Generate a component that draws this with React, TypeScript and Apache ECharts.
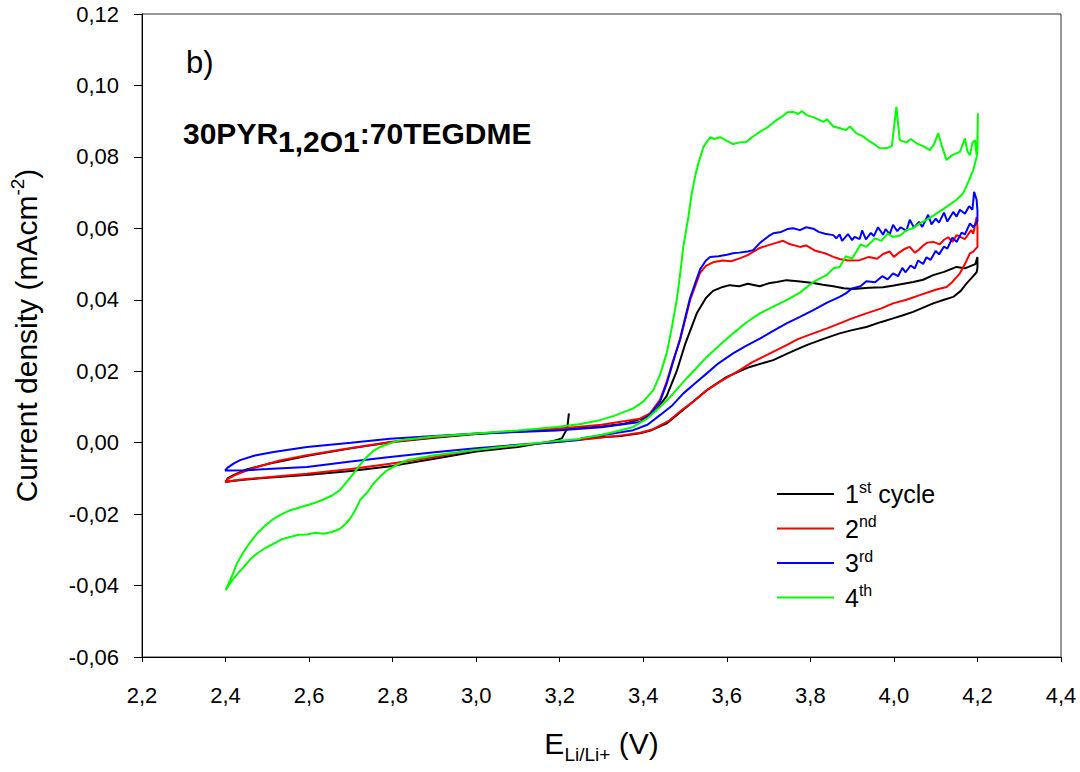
import React, { useEffect, useRef } from 'react';
import * as echarts from 'echarts';

const xMin = 2.2;
const xMax = 4.4;
const xStep = 0.2;
const yMin = -0.06;
const yMax = 0.12;
const yStep = 0.02;
const xTickLabels = ['2,2', '2,4', '2,6', '2,8', '3,0', '3,2', '3,4', '3,6', '3,8', '4,0', '4,2', '4,4'];
const yTickLabels = ['-0,06', '-0,04', '-0,02', '0,00', '0,02', '0,04', '0,06', '0,08', '0,10', '0,12'];

const seriesNames = ['1st cycle', '2nd', '3rd', '4th'];
const legendTexts = ['{f|1}{s|st}{n| cycle}', '{f|2}{s|nd}', '{f|3}{s|rd}', '{f|4}{s|th}'];
const colors = ['#000000', '#ff0000', '#0000ff', '#00ff00'];

const cycle1: number[][] = [
  [3.222, 0.0082], [3.218, 0.004], [3.205, 0.0012], [3.185, 0.0005], [3.1, -0.0012], [3.0, -0.0025],
  [2.9, -0.0045], [2.8, -0.0065], [2.7, -0.0079], [2.6, -0.009], [2.5, -0.0098], [2.45, -0.0103],
  [2.41, -0.0108], [2.4, -0.0111], [2.405, -0.01], [2.42, -0.009], [2.45, -0.0075], [2.5, -0.006],
  [2.6, -0.0036], [2.7, -0.0016], [2.8, 0.0002], [2.9, 0.0014], [3.0, 0.0024], [3.1, 0.0031],
  [3.2, 0.0037], [3.3, 0.0045], [3.35, 0.0052], [3.4, 0.0068], [3.43, 0.009], [3.456, 0.013],
  [3.48, 0.02], [3.5, 0.0275], [3.528, 0.0362], [3.55, 0.0405], [3.567, 0.0425], [3.59, 0.0436],
  [3.607, 0.0441], [3.63, 0.0438], [3.65, 0.0445], [3.679, 0.0438], [3.7, 0.0446], [3.72, 0.045],
  [3.743, 0.0455], [3.77, 0.0452], [3.807, 0.0447], [3.83, 0.0442], [3.855, 0.0438], [3.88, 0.0432],
  [3.902, 0.043], [3.94, 0.0434], [3.974, 0.0435], [4.0, 0.044], [4.046, 0.045], [4.07, 0.0456],
  [4.094, 0.0469], [4.12, 0.0478], [4.15, 0.0492], [4.17, 0.0488], [4.18, 0.0493], [4.195, 0.05],
  [4.2, 0.052], [4.2, 0.049], [4.198, 0.0477], [4.185, 0.046], [4.174, 0.0446], [4.16, 0.0425],
  [4.142, 0.0408], [4.12, 0.04], [4.094, 0.039], [4.07, 0.0378], [4.046, 0.0366], [4.02, 0.0356],
  [3.998, 0.0348], [3.97, 0.0338], [3.934, 0.0324], [3.9, 0.0315], [3.87, 0.0306], [3.83, 0.029],
  [3.791, 0.0273], [3.75, 0.0252], [3.711, 0.0231], [3.655, 0.0212], [3.6, 0.0184], [3.552, 0.0147],
  [3.504, 0.01], [3.456, 0.0054], [3.42, 0.0035], [3.392, 0.0026], [3.35, 0.0019], [3.296, 0.0015],
  [3.25, 0.0009],
];

const cycle2: number[][] = [
  [3.25, 0.0008], [3.193, 0.0002], [3.1, -0.0008], [2.993, -0.0021], [2.9, -0.004], [2.794, -0.0059],
  [2.7, -0.0074], [2.595, -0.0087], [2.5, -0.0097], [2.45, -0.0102], [2.42, -0.0106], [2.4, -0.011],
  [2.405, -0.0102], [2.42, -0.0092], [2.435, -0.0085], [2.475, -0.0068], [2.53, -0.005], [2.595, -0.0035],
  [2.7, -0.0015], [2.794, 0.0002], [2.9, 0.0015], [2.993, 0.0025], [3.1, 0.0033], [3.193, 0.0039],
  [3.3, 0.005], [3.392, 0.0067], [3.416, 0.0082], [3.44, 0.012], [3.456, 0.017], [3.47, 0.0225],
  [3.488, 0.0287], [3.512, 0.0399], [3.536, 0.0475], [3.55, 0.0495], [3.567, 0.0505], [3.59, 0.051],
  [3.61, 0.0508], [3.631, 0.0516], [3.65, 0.0525], [3.679, 0.0545], [3.7, 0.0553], [3.72, 0.056],
  [3.735, 0.0565], [3.75, 0.0556], [3.775, 0.0548], [3.79, 0.0552], [3.81, 0.0538], [3.823, 0.0534],
  [3.84, 0.0528], [3.855, 0.052], [3.87, 0.0514], [3.89, 0.051], [3.918, 0.0511], [3.94, 0.052],
  [3.96, 0.0515], [3.974, 0.0528], [3.99, 0.0535], [4.0, 0.052], [4.01, 0.053], [4.025, 0.0542],
  [4.038, 0.0548], [4.05, 0.0532], [4.06, 0.054], [4.07, 0.0552], [4.08, 0.056], [4.094, 0.0562],
  [4.11, 0.0555], [4.12, 0.0568], [4.13, 0.0575], [4.14, 0.0562], [4.15, 0.0581], [4.17, 0.057],
  [4.185, 0.0595], [4.19, 0.0585], [4.198, 0.0632], [4.2, 0.06], [4.2, 0.0548], [4.19, 0.0535],
  [4.182, 0.053], [4.17, 0.05], [4.158, 0.0474], [4.14, 0.045], [4.126, 0.0436], [4.1, 0.0428],
  [4.062, 0.0413], [4.03, 0.04], [3.998, 0.039], [3.97, 0.0376], [3.934, 0.0362], [3.9, 0.0348],
  [3.87, 0.0334], [3.84, 0.032], [3.807, 0.0306], [3.77, 0.029], [3.743, 0.0273], [3.695, 0.0245],
  [3.66, 0.0225], [3.631, 0.0203], [3.583, 0.017], [3.55, 0.0145], [3.52, 0.0115], [3.496, 0.0095],
  [3.46, 0.006], [3.42, 0.0036], [3.392, 0.0028], [3.34, 0.0019], [3.296, 0.0014], [3.25, 0.0008],
];

const cycle3: number[][] = [
  [3.25, 0.0008], [3.193, 0.0002], [3.1, -0.0006], [2.993, -0.0016], [2.9, -0.0027], [2.794, -0.004],
  [2.7, -0.0053], [2.595, -0.0068], [2.5, -0.0074], [2.45, -0.0077], [2.41, -0.0078], [2.399, -0.0078],
  [2.405, -0.007], [2.42, -0.0058], [2.435, -0.0049], [2.47, -0.0036], [2.515, -0.0026], [2.595, -0.0012],
  [2.7, 0.0], [2.794, 0.0011], [2.9, 0.0019], [2.993, 0.0025], [3.1, 0.003], [3.193, 0.0034],
  [3.3, 0.0043], [3.392, 0.0058], [3.416, 0.0078], [3.44, 0.0115], [3.456, 0.0165], [3.47, 0.022],
  [3.488, 0.029], [3.512, 0.0405], [3.536, 0.0485], [3.55, 0.051], [3.56, 0.052], [3.58, 0.0522],
  [3.6, 0.0526], [3.615, 0.053], [3.63, 0.0532], [3.65, 0.0535], [3.663, 0.0539], [3.68, 0.056],
  [3.7, 0.0578], [3.711, 0.0586], [3.73, 0.059], [3.745, 0.0598], [3.759, 0.06], [3.775, 0.0595],
  [3.79, 0.0603], [3.807, 0.0599], [3.82, 0.059], [3.835, 0.0585], [3.855, 0.0581], [3.862, 0.0572],
  [3.87, 0.0583], [3.876, 0.0565], [3.89, 0.0584], [3.9, 0.0567], [3.906, 0.0576], [3.918, 0.057],
  [3.924, 0.0594], [3.933, 0.0569], [3.945, 0.0587], [3.952, 0.0578], [3.962, 0.0603], [3.974, 0.0582],
  [3.98, 0.0598], [3.99, 0.0584], [3.998, 0.061], [4.008, 0.0592], [4.016, 0.0603], [4.03, 0.0593],
  [4.038, 0.0624], [4.048, 0.0602], [4.06, 0.0618], [4.068, 0.0604], [4.082, 0.0638], [4.09, 0.0611],
  [4.1, 0.0627], [4.108, 0.0616], [4.12, 0.0644], [4.128, 0.0619], [4.142, 0.0646], [4.15, 0.0633],
  [4.158, 0.0652], [4.17, 0.0641], [4.18, 0.0662], [4.188, 0.0652], [4.192, 0.0702], [4.198, 0.068],
  [4.2, 0.065], [4.2, 0.062], [4.19, 0.0603], [4.182, 0.0614], [4.17, 0.0583], [4.162, 0.0588],
  [4.15, 0.0562], [4.14, 0.0574], [4.128, 0.0543], [4.12, 0.0549], [4.108, 0.0527], [4.1, 0.0537],
  [4.088, 0.0512], [4.078, 0.0519], [4.07, 0.05], [4.058, 0.051], [4.05, 0.0488], [4.04, 0.0496],
  [4.028, 0.0477], [4.02, 0.0489], [4.01, 0.0466], [3.998, 0.0474], [3.985, 0.0457], [3.972, 0.0466],
  [3.955, 0.0449], [3.934, 0.0452], [3.92, 0.0438], [3.9, 0.0432], [3.885, 0.0418], [3.87, 0.0408],
  [3.84, 0.0392], [3.807, 0.0371], [3.775, 0.0352], [3.743, 0.0334], [3.71, 0.0312], [3.679, 0.0291],
  [3.645, 0.027], [3.615, 0.025], [3.58, 0.0222], [3.552, 0.0194], [3.52, 0.0162], [3.496, 0.0138],
  [3.47, 0.0105], [3.44, 0.0077], [3.41, 0.005], [3.376, 0.0035], [3.33, 0.0026], [3.296, 0.002],
  [3.25, 0.0012],
];

const cycle4: number[][] = [
  [3.25, 0.001], [3.193, 0.0005], [3.1, -0.0007], [2.993, -0.0021], [2.9, -0.0035], [2.834, -0.0049],
  [2.81, -0.0062], [2.786, -0.0078], [2.77, -0.0095], [2.754, -0.0115], [2.74, -0.0138], [2.722, -0.0161],
  [2.71, -0.019], [2.698, -0.0213], [2.685, -0.023], [2.674, -0.0241], [2.655, -0.025], [2.634, -0.0255],
  [2.615, -0.0252], [2.595, -0.0257], [2.575, -0.0258], [2.555, -0.0264], [2.535, -0.027], [2.515, -0.0283],
  [2.495, -0.0295], [2.475, -0.0311], [2.46, -0.0325], [2.443, -0.0349], [2.43, -0.0365], [2.419, -0.0381],
  [2.41, -0.0395], [2.405, -0.0405], [2.4, -0.0413], [2.405, -0.04], [2.411, -0.0385], [2.42, -0.036],
  [2.427, -0.0339], [2.44, -0.0312], [2.451, -0.0292], [2.465, -0.027], [2.475, -0.0255], [2.495, -0.0232],
  [2.515, -0.0213], [2.535, -0.02], [2.555, -0.0189], [2.575, -0.0182], [2.595, -0.0175], [2.615, -0.0168],
  [2.634, -0.0159], [2.655, -0.0148], [2.674, -0.0133], [2.69, -0.011], [2.706, -0.0087], [2.722, -0.0062],
  [2.738, -0.004], [2.755, -0.0022], [2.77, -0.0012], [2.794, -0.0002], [2.818, 0.0007], [2.9, 0.0017],
  [2.993, 0.0025], [3.1, 0.0034], [3.193, 0.0044], [3.25, 0.0052], [3.296, 0.0063], [3.33, 0.0075],
  [3.376, 0.0096], [3.4, 0.0115], [3.424, 0.0147], [3.44, 0.019], [3.456, 0.025], [3.468, 0.032],
  [3.48, 0.0399], [3.488, 0.047], [3.496, 0.055], [3.508, 0.0632], [3.516, 0.0698], [3.525, 0.075],
  [3.532, 0.0782], [3.544, 0.0828], [3.56, 0.0855], [3.57, 0.085], [3.584, 0.0855], [3.6, 0.0845],
  [3.615, 0.0836], [3.63, 0.084], [3.647, 0.0842], [3.66, 0.0855], [3.679, 0.087], [3.7, 0.0885],
  [3.719, 0.0903], [3.735, 0.0915], [3.745, 0.0925], [3.759, 0.0926], [3.77, 0.092], [3.78, 0.0928],
  [3.791, 0.0917], [3.81, 0.091], [3.831, 0.0898], [3.84, 0.0905], [3.855, 0.0885], [3.871, 0.088],
  [3.885, 0.0875], [3.895, 0.0885], [3.91, 0.0866], [3.925, 0.0858], [3.94, 0.0845], [3.95, 0.0838],
  [3.965, 0.0825], [3.982, 0.0824], [3.995, 0.083], [4.006, 0.094], [4.014, 0.0847], [4.03, 0.084],
  [4.04, 0.085], [4.054, 0.0838], [4.07, 0.083], [4.086, 0.0819], [4.096, 0.0835], [4.106, 0.0866],
  [4.115, 0.083], [4.126, 0.0791], [4.14, 0.0805], [4.158, 0.0814], [4.17, 0.0852], [4.176, 0.0815],
  [4.182, 0.0805], [4.188, 0.084], [4.194, 0.0847], [4.198, 0.0805], [4.2, 0.085], [4.201, 0.0922],
  [4.2, 0.082], [4.198, 0.08], [4.19, 0.0763], [4.18, 0.0735], [4.166, 0.0698], [4.15, 0.068],
  [4.126, 0.066], [4.1, 0.064], [4.08, 0.0625], [4.062, 0.0614], [4.045, 0.06], [4.03, 0.0595],
  [4.015, 0.058], [3.998, 0.0576], [3.985, 0.0585], [3.97, 0.0565], [3.955, 0.0572], [3.934, 0.0548],
  [3.92, 0.0555], [3.9, 0.0515], [3.885, 0.0522], [3.87, 0.0492], [3.855, 0.0488], [3.84, 0.047],
  [3.807, 0.045], [3.775, 0.042], [3.743, 0.0399], [3.71, 0.038], [3.679, 0.0362], [3.645, 0.0335],
  [3.615, 0.0306], [3.58, 0.027], [3.552, 0.024], [3.52, 0.02], [3.496, 0.017], [3.47, 0.0135],
  [3.44, 0.01], [3.41, 0.0068], [3.376, 0.0044], [3.33, 0.003], [3.296, 0.0021], [3.25, 0.0012],
];

const cycles = [cycle1, cycle2, cycle3, cycle4];

const FONT = '"Liberation Sans", Arial, Helvetica, sans-serif';

export default function App() {
  const ref = useRef<HTMLDivElement>(null);

  useEffect(() => {
    document.body.style.margin = '0';
    if (!ref.current) return;
    const chart = echarts.init(ref.current, undefined, { renderer: 'svg' });
    const option: any = {
      animation: false,
      backgroundColor: '#ffffff',
      textStyle: { fontFamily: FONT },
      grid: {
        left: 142,
        right: 19,
        top: 14,
        bottom: 115,
        show: true,
        borderColor: '#333333',
        borderWidth: 1,
        backgroundColor: 'transparent',
      },
      xAxis: {
        type: 'value',
        min: xMin,
        max: xMax,
        interval: xStep,
        name: '{n|E}{sub|Li/Li+}{n| (V)}',
        nameLocation: 'middle',
        nameGap: 69,
        nameTextStyle: {
          rich: {
            n: { fontSize: 30, lineHeight: 34, color: '#000', fontFamily: FONT },
            sub: { fontSize: 19, lineHeight: 19, padding: [22, 0, 0, 0], color: '#000', fontFamily: FONT },
          },
        },
        axisLine: { show: true, onZero: false, lineStyle: { color: '#000', width: 1 } },
        axisTick: { show: true, length: 5, lineStyle: { color: '#000' } },
        axisLabel: {
          margin: 27,
          fontSize: 22,
          color: '#000',
          fontFamily: FONT,
          formatter: (v: number) => xTickLabels[Math.round((v - xMin) / xStep)] ?? '',
        },
        splitLine: { show: false },
      },
      yAxis: {
        type: 'value',
        min: yMin,
        max: yMax,
        interval: yStep,
        name: '{n|Current density (mAcm}{s|-2}{n|)}',
        nameLocation: 'middle',
        nameRotate: 90,
        nameGap: 98,
        nameTextStyle: {
          rich: {
            n: { fontSize: 30, lineHeight: 36, color: '#000', fontFamily: FONT },
            s: { fontSize: 19, lineHeight: 19, verticalAlign: 'top', color: '#000', fontFamily: FONT },
          },
        },
        axisLine: { show: true, onZero: false, lineStyle: { color: '#000', width: 1 } },
        axisTick: { show: true, length: 8, lineStyle: { color: '#000' } },
        axisLabel: {
          margin: 23,
          fontSize: 22,
          color: '#000',
          fontFamily: FONT,
          formatter: (v: number) => yTickLabels[Math.round((v - yMin) / yStep)] ?? '',
        },
        splitLine: { show: false },
      },
      legend: {
        orient: 'vertical',
        left: 772,
        top: 474,
        icon: 'rect',
        itemWidth: 57,
        itemHeight: 2,
        itemGap: 7,
        selectedMode: false,
        data: seriesNames,
        formatter: (name: string) => legendTexts[seriesNames.indexOf(name)],
        textStyle: {
          rich: {
            f: { fontSize: 25, lineHeight: 30, padding: [0, 0, 0, 6], color: '#000', fontFamily: FONT },
            n: { fontSize: 25, lineHeight: 30, color: '#000', fontFamily: FONT },
            s: { fontSize: 16, lineHeight: 16, verticalAlign: 'top', color: '#000', fontFamily: FONT },
          },
        },
      },
      graphic: [
        {
          type: 'text',
          left: 186,
          top: 47,
          style: { text: 'b)', fontSize: 31, fill: '#000', fontFamily: FONT },
        },
        {
          type: 'text',
          left: 183,
          top: 110,
          style: {
            text: '{b|30PYR}{sub|1,2O1}{b|:70TEGDME}',
            fill: '#000',
            rich: {
              b: { fontSize: 30, fontWeight: 'bold', lineHeight: 30, fontFamily: FONT, fill: '#000' },
              sub: { fontSize: 30, fontWeight: 'bold', lineHeight: 30, padding: [16, 0, 0, 0], fontFamily: FONT, fill: '#000' },
            },
          },
        },
      ],
      series: cycles.map((data, i) => ({
        name: seriesNames[i],
        type: 'line',
        data,
        symbol: 'none',
        showSymbol: false,
        smooth: false,
        lineStyle: { color: colors[i], width: 2 },
        itemStyle: { color: colors[i] },
        emphasis: { disabled: true },
      })),
    };
    chart.setOption(option);
    return () => chart.dispose();
  }, []);

  return (
    <div
      ref={ref}
      style={{ position: 'absolute', left: 0, top: 0, width: 1080, height: 772, background: '#fff' }}
    />
  );
}
